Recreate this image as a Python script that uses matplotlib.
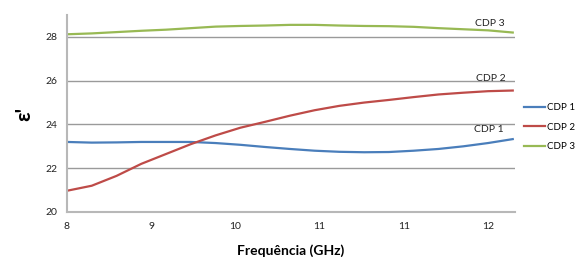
import matplotlib
matplotlib.use("Agg")
from matplotlib import pyplot as plt

plt.rcParams['font.family'] = ['Lato', 'DejaVu Sans']

# frequency (GHz) and permittivity readings
freq = [8.0, 8.25, 8.5, 8.75, 9.0, 9.25, 9.5, 9.75, 10.0, 10.25,
        10.5, 10.75, 11.0, 11.25, 11.5, 11.75, 12.0, 12.25, 12.5]
cdp1 = [23.2, 23.17, 23.18, 23.2, 23.2, 23.2, 23.15, 23.07, 22.97, 22.88,
        22.8, 22.75, 22.73, 22.74, 22.8, 22.88, 23.0, 23.15, 23.33]
cdp2 = [20.97, 21.2, 21.65, 22.2, 22.65, 23.1, 23.5, 23.85, 24.12, 24.4,
        24.65, 24.85, 25.0, 25.12, 25.25, 25.37, 25.45, 25.52, 25.55]
cdp3 = [28.12, 28.16, 28.22, 28.28, 28.33, 28.4, 28.47, 28.5, 28.52, 28.55,
        28.55, 28.52, 28.5, 28.49, 28.46, 28.4, 28.35, 28.3, 28.2]

names = ["CDP 1", "CDP 2", "CDP 3"]
colors = ["#4a7ebb", "#be4b48", "#98b954"]

# category-style tick labels (rounded frequencies)
xticks = [8.0, 8.85, 9.7, 10.55, 11.4, 12.25]
xlabels = ["8", "9", "10", "11", "11", "12"]
yticks = [20, 22, 24, 26, 28]

fig = plt.figure(figsize=(5.79, 2.59), dpi=100)
ax = fig.add_axes([0.1157, 0.1815, 0.7733, 0.7605])

series = [cdp1, cdp2, cdp3]
for s, name, c in zip(series, names, colors):
    ax.plot(freq, s, color=c, lw=1.6, label=name)

# data labels near the end of each curve
offsets = [(-24, 10), (-22, 12), (-23, 9)]
for s, name, off in zip(series, names, offsets):
    ax.annotate(name, xy=(freq[-1], s[-1]), xytext=off,
                textcoords="offset pixels", ha="center", va="center",
                fontsize=7.5, color="#222222")

ax.set_xlim(8, 12.52)
ax.set_ylim(20, 29)
ax.set_xticks(xticks)
ax.set_xticklabels(xlabels)
ax.set_yticks(yticks)
ax.tick_params(length=0, labelsize=7.5, pad=7, colors="#222222")

ax.grid(axis="y", color="#9a9a9a", lw=1)
ax.set_axisbelow(True)
for side in ["top", "right"]:
    ax.spines[side].set_visible(False)
ax.spines["left"].set_color("#b8b8b8")
ax.spines["left"].set_linewidth(1.5)
ax.spines["bottom"].set_color("#b8b8b8")
ax.spines["bottom"].set_linewidth(1.5)

ax.set_xlabel("Frequência (GHz)", fontsize=10, fontweight="bold", labelpad=10)
ax.set_ylabel("ε'", fontsize=15, fontweight="bold", labelpad=8)

ax.legend(loc="center left", bbox_to_anchor=(1.005, 0.43), frameon=False,
          fontsize=7, handlelength=2.2, handletextpad=0.15, labelspacing=1.1,
          borderpad=0.2)

fig.savefig("out.png", dpi=100)
